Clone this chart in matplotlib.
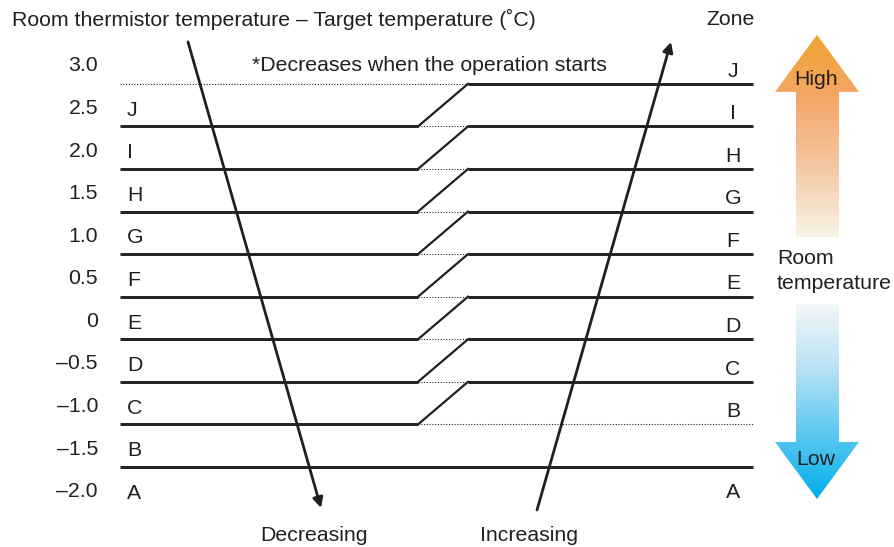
import matplotlib.pyplot as plt
import numpy as np
from matplotlib.patches import Polygon
from matplotlib.colors import LinearSegmentedColormap

plt.rcParams['font.family'] = ['Liberation Sans', 'DejaVu Sans']

zones = ['A', 'B', 'C', 'D', 'E', 'F', 'G', 'H', 'I', 'J']
temp_labels = ['\u20132.0', '\u20131.5', '\u20131.0', '\u20130.5', '0', '0.5',
               '1.0', '1.5', '2.0', '2.5', '3.0']
# zone boundaries (in zone units); the right side is one zone higher
switch_levels = [2, 3, 4, 5, 6, 7, 8, 9]
bottom_level = 1
top_level = 10

ink = '#231f20'
fs = 15.3

fig = plt.figure(figsize=(8.94, 5.47), dpi=100)
ax = fig.add_axes([0, 0, 1, 1])
ax.set_xlim(0, 894)
ax.set_ylim(-0.88, 11.97)
ax.axis('off')

step = 42.56


def py(p):
    # pixel row -> zone units
    return 1 + (467 - p) / step


x_left, x_s0, x_s1, x_right = 120, 418, 468, 753

# boundaries: left part, step, right part
for k in switch_levels:
    ax.plot([x_left, x_s0], [k, k], color=ink, lw=2.1, solid_capstyle='butt')
    ax.plot([x_s0, x_s1], [k, k + 1], color=ink, lw=1.6)
    ax.plot([x_s0, x_s1], [k, k], color=ink, lw=0.8, ls=(0, (1, 1.5)))
    ax.plot([x_s1, x_right], [k + 1, k + 1], color=ink, lw=2.1, solid_capstyle='butt')
ax.plot([x_left, x_s1], [top_level, top_level], color=ink, lw=0.8, ls=(0, (1, 1.5)))
ax.plot([x_s1, x_right], [switch_levels[0], switch_levels[0]], color=ink, lw=0.8,
        ls=(0, (1, 1.5)))
ax.plot([x_left, x_right], [bottom_level, bottom_level], color=ink, lw=2.1,
        solid_capstyle='butt')

# labels
for i, t in enumerate(temp_labels):
    ax.text(98, i + 0.42, t, ha='right', va='center', fontsize=fs, color=ink)
for i, z in enumerate(zones):
    ax.text(127, i + 0.38, z, ha='left', va='center', fontsize=fs, color=ink)
    yr = 0.4 if i == 0 else i + 1.3
    ax.text(733, yr, z, ha='center', va='center', fontsize=fs, color=ink)

ax.text(12, py(20), 'Room thermistor temperature \u2013 Target temperature (\u02daC)',
        ha='left', va='center', fontsize=fs, color=ink)
ax.text(731, py(20), 'Zone', ha='center', va='center', fontsize=fs, color=ink)
ax.text(252, py(66), '*Decreases when the operation starts', ha='left', va='center',
        fontsize=fs, color=ink)
ax.text(314, py(536), 'Decreasing', ha='center', va='center', fontsize=fs, color=ink)
ax.text(529, py(536), 'Increasing', ha='center', va='center', fontsize=fs, color=ink)

# trend arrows
arrow_kw = dict(arrowstyle='-|>', lw=2, color=ink, mutation_scale=15, shrinkA=0, shrinkB=0)
ax.annotate('', xy=(321, py(508)), xytext=(188, py(42)), arrowprops=arrow_kw)
ax.annotate('', xy=(671, py(42)), xytext=(537, py(510)), arrowprops=arrow_kw)

# gradient arrows
hi_cmap = LinearSegmentedColormap.from_list('hi', ['#f8f3e6', '#f5c9a4', '#f4a86c', '#f0a22c'])
lo_cmap = LinearSegmentedColormap.from_list('lo', ['#00aee9', '#5cc8f0', '#b8e2f4', '#f3f7f9'])
hi_px = [(817, 35), (859, 92), (839, 92), (839, 237), (796, 237), (796, 92), (775, 92)]
lo_px = [(796, 304), (839, 304), (839, 442), (859, 442), (817, 499), (775, 442), (796, 442)]
for pts, cmap in [(hi_px, hi_cmap), (lo_px, lo_cmap)]:
    verts = [(x, py(y)) for x, y in pts]
    ys = [v[1] for v in verts]
    poly = Polygon(verts, closed=True, facecolor='none', edgecolor='none')
    ax.add_patch(poly)
    grad = np.linspace(0, 1, 256).reshape(-1, 1)
    im = ax.imshow(grad, cmap=cmap, origin='lower', aspect='auto',
                   extent=[775, 859, min(ys), max(ys)], interpolation='bilinear')
    im.set_clip_path(poly)
ax.set_xlim(0, 894)
ax.set_ylim(-0.88, 11.97)

ax.text(816, py(80), 'High', ha='center', va='center', fontsize=fs, color=ink)
ax.text(816, py(460), 'Low', ha='center', va='center', fontsize=fs, color=ink)
ax.text(777, py(259), 'Room', ha='left', va='center', fontsize=fs, color=ink)
ax.text(777, py(284), 'temperature', ha='left', va='center', fontsize=fs, color=ink)

fig.savefig('out.png', dpi=100)
